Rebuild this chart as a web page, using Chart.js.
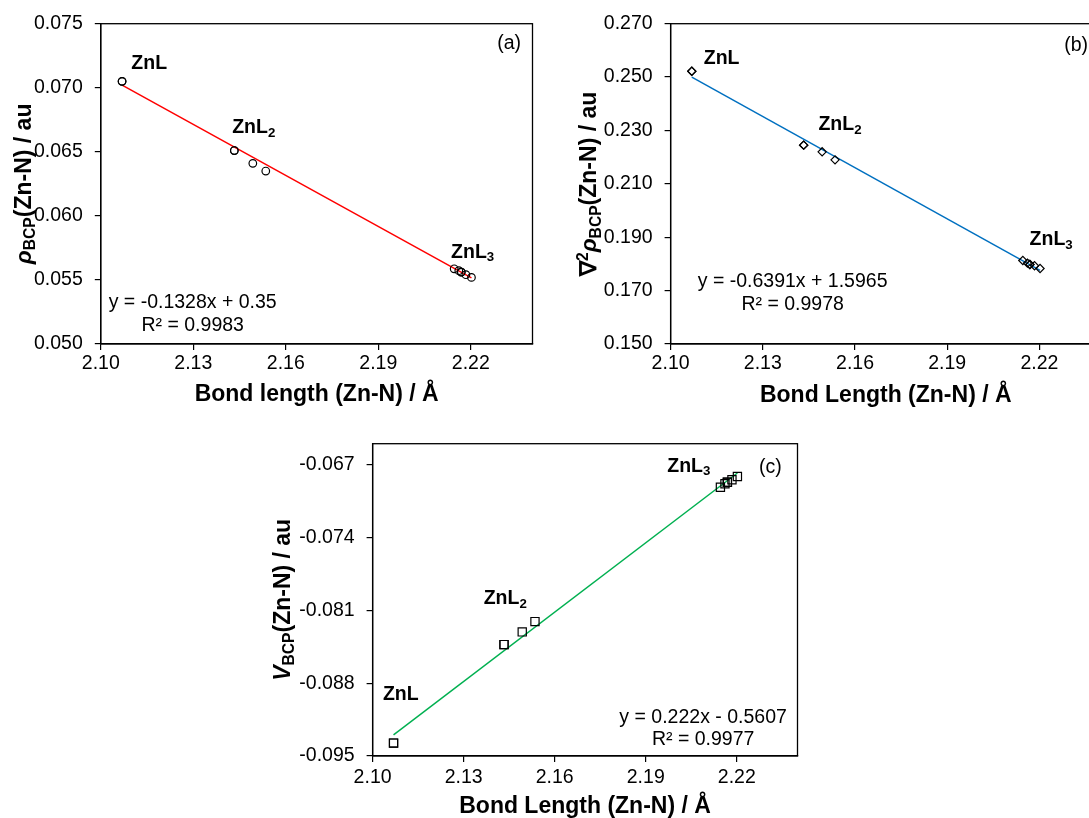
<!DOCTYPE html>
<html>
<head>
<meta charset="utf-8">
<script src="https://cdn.jsdelivr.net/npm/chart.js@4.4.0/dist/chart.umd.min.js"></script>
<style>
  html, body { margin: 0; padding: 0; background: #fff; overflow: hidden; width: 1089px; height: 818px; }
  .panel { position: absolute; }
</style>
</head>
<body>
<div class="panel" style="left:0;top:0"><canvas id="chartA" width="560" height="410"></canvas></div>
<div class="panel" style="left:545px;top:0"><canvas id="chartB" width="570" height="410"></canvas></div>
<div class="panel" style="left:270px;top:420px"><canvas id="chartC" width="545" height="398"></canvas></div>
<script>
const FONT = "'Liberation Sans', Arial, sans-serif"

//Datos
const bondLength = [2.1069, 2.1069, 2.1433, 2.1433, 2.1493, 2.1535, 2.2146, 2.2161, 2.2169, 2.2169, 2.2184, 2.2202]
const rhoBCP = [0.0705, 0.0705, 0.0651, 0.0651, 0.0641, 0.0635, 0.05587, 0.05572, 0.05561, 0.05561, 0.05541, 0.0552]
const lapRhoBCP = [0.2522, 0.2522, 0.2245, 0.2245, 0.2220, 0.2190, 0.1813, 0.1803, 0.1798, 0.1798, 0.1793, 0.1783]
const vBCP = [-0.09376, -0.09376, -0.0843, -0.0843, -0.08308, -0.08209, -0.06918, -0.06884, -0.0687, -0.0687, -0.06846, -0.06815]

//Líneas de tendencia (a), (b), (c)
const fitSlope = [-0.1328, -0.6391, 0.222]
const fitIntercept = [0.35, 1.5965, -0.5607]
const fitR2 = [0.9983, 0.9978, 0.9977]

//Ticks
const xTicks = [2.10, 2.13, 2.16, 2.19, 2.22]
const yTicksA = [0.050, 0.055, 0.060, 0.065, 0.070, 0.075]
const yTicksB = [0.150, 0.170, 0.190, 0.210, 0.230, 0.250, 0.270]
const yTicksC = [-0.095, -0.088, -0.081, -0.074, -0.067]

//Texto con subíndices / superíndices
const drawRich = (ctx, segs, x, y, size, weight, align) => {
  const parts = segs.map(s => {
    const small = s.sub || s.sup
    const fs = small ? size * 0.68 : size
    const font = `${s.style || 'normal'} ${weight} ${fs}px ${FONT}`
    ctx.font = font
    return { t: s.t, font, w: ctx.measureText(s.t).width, dy: s.sub ? size * 0.2 : s.sup ? -size * 0.36 : 0 }
  })
  const total = parts.reduce((acc, p) => acc + p.w, 0)
  let cx = align === 'center' ? x - total / 2 : align === 'right' ? x - total : x
  ctx.textAlign = 'left'
  ctx.textBaseline = 'alphabetic'
  parts.forEach(p => {
    ctx.font = p.font
    ctx.fillText(p.t, cx, y + p.dy)
    cx += p.w
  })
}

const decorPlugin = {
  id: 'panelDecor',
  afterDraw(chart, args, o) {
    const { ctx, chartArea: a, scales: { x, y } } = chart
    ctx.save()
    ctx.fillStyle = '#000'
    ctx.strokeStyle = '#000'
    ctx.lineWidth = 1.3
    ctx.strokeRect(a.left, a.top, a.right - a.left, a.bottom - a.top)

    //Título eje Y
    ctx.save()
    ctx.translate(o.yTitleX, (a.top + a.bottom) / 2)
    ctx.rotate(-Math.PI / 2)
    drawRich(ctx, o.yTitle, 0, 0, 23, 'bold', 'center')
    ctx.restore()

    //Etiquetas ZnL
    o.labels.forEach(l => {
      drawRich(ctx, l.segs, x.getPixelForValue(l.x), y.getPixelForValue(l.y), 19.5, 'bold', 'left')
    })

    //(a) (b) (c)
    drawRich(ctx, [{ t: o.letter.text }], x.getPixelForValue(o.letter.x), y.getPixelForValue(o.letter.y), 19.5, 'normal', 'right')

    //Ecuación
    const ex = x.getPixelForValue(o.eq.x)
    const ey = y.getPixelForValue(o.eq.y)
    o.eq.lines.forEach((line, i) => {
      drawRich(ctx, [{ t: line }], ex, ey + i * 22.7, 19.5, 'normal', 'center')
    })
    ctx.restore()
  }
}

const eqText = i => {
  const b = fitIntercept[i]
  return [`y = ${fitSlope[i]}x ${b < 0 ? '-' : '+'} ${Math.abs(b)}`, `R² = ${fitR2[i]}`]
}

const generatePanel = (id, p) => {
  const points = bondLength.map((v, i) => ({ x: v, y: p.values[i] }))
  const x0 = Math.min(...bondLength)
  const x1 = Math.max(...bondLength)
  const fit = [x0, x1].map(v => ({ x: v, y: fitSlope[p.idx] * v + fitIntercept[p.idx] }))

  return new Chart(document.getElementById(id), {
    type: 'scatter',
    data: {
      datasets: [
        {
          data: points,
          pointStyle: p.marker,
          pointRadius: p.radius,
          borderColor: '#000',
          backgroundColor: 'rgba(0,0,0,0)',
          borderWidth: 1.2,
          order: 1
        },
        {
          type: 'line',
          data: fit,
          borderColor: p.lineColor,
          borderWidth: 1.5,
          pointRadius: 0,
          fill: false,
          order: 2
        }
      ]
    },
    options: {
      responsive: false,
      animation: false,
      events: [],
      layout: { padding: p.padding },
      plugins: {
        legend: { display: false },
        tooltip: { enabled: false },
        panelDecor: p.decor
      },
      scales: {
        x: {
          type: 'linear',
          min: 2.10,
          max: 2.24,
          afterFit: s => { s.height = p.xHeight },
          afterBuildTicks: s => { s.ticks = xTicks.map(v => ({ value: v })) },
          ticks: {
            font: { family: FONT, size: 19.5 },
            color: '#000',
            padding: p.xTickPad,
            maxRotation: 0,
            autoSkip: false,
            callback: v => v.toFixed(2)
          },
          grid: { drawOnChartArea: false, drawTicks: true, tickLength: 6, color: '#000', lineWidth: 1.2 },
          border: { display: true, color: '#000', width: 1.3 },
          title: {
            display: true,
            text: p.xTitle,
            color: '#000',
            font: { family: FONT, size: 23, weight: 'bold', lineHeight: 1 },
            padding: { top: 0, bottom: p.xTitlePad }
          }
        },
        y: {
          type: 'linear',
          min: p.yMin,
          max: p.yMax,
          afterFit: s => { s.width = p.yWidth },
          afterBuildTicks: s => { s.ticks = p.yTicks.map(v => ({ value: v })) },
          ticks: {
            font: { family: FONT, size: 19.5 },
            color: '#000',
            padding: 12,
            autoSkip: false,
            callback: v => v.toFixed(3)
          },
          grid: { drawOnChartArea: false, drawTicks: true, tickLength: 6, color: '#000', lineWidth: 1.2 },
          border: { display: true, color: '#000', width: 1.3 }
        }
      }
    },
    plugins: [decorPlugin]
  })
}

generatePanel('chartA', {
  idx: 0,
  values: rhoBCP,
  marker: 'circle',
  radius: 3.8,
  lineColor: '#FF0000',
  padding: { top: 23, right: 27.5, left: 0, bottom: 0 },
  xHeight: 66,
  yWidth: 100.8,
  xTitle: 'Bond length (Zn-N) / Å',
  xTitlePad: 3.5,
  xTickPad: 1.5,
  yMin: 0.050,
  yMax: 0.075,
  yTicks: yTicksA,
  decor: {
    yTitleX: 30.5,
    yTitle: [{ t: 'ρ', style: 'italic' }, { t: 'BCP', sub: true }, { t: '(Zn-N) / au' }],
    labels: [
      { x: 2.1099, y: 0.07150, segs: [{ t: 'ZnL' }] },
      { x: 2.1426, y: 0.06646, segs: [{ t: 'ZnL' }, { t: '2', sub: true }] },
      { x: 2.2136, y: 0.05675, segs: [{ t: 'ZnL' }, { t: '3', sub: true }] }
    ],
    letter: { x: 2.2363, y: 0.07306, text: '(a)' },
    eq: { x: 2.1298, y: 0.05278, lines: eqText(0) }
  }
})

generatePanel('chartB', {
  idx: 1,
  values: lapRhoBCP,
  marker: 'rectRot',
  radius: 4.1,
  lineColor: '#0070C0',
  padding: { top: 23, right: 14.1, left: 0, bottom: 0 },
  xHeight: 66,
  yWidth: 125.6,
  xTitle: 'Bond Length (Zn-N) / Å',
  xTitlePad: 3,
  xTickPad: 1.5,
  yMin: 0.150,
  yMax: 0.270,
  yTicks: yTicksB,
  decor: {
    yTitleX: 51,
    yTitle: [{ t: '∇' }, { t: '2', sup: true }, { t: 'ρ', style: 'italic' }, { t: 'BCP', sub: true }, { t: '(Zn-N) / au' }],
    labels: [
      { x: 2.1108, y: 0.2549, segs: [{ t: 'ZnL' }] },
      { x: 2.1481, y: 0.2300, segs: [{ t: 'ZnL' }, { t: '2', sub: true }] },
      { x: 2.2168, y: 0.1870, segs: [{ t: 'ZnL' }, { t: '3', sub: true }] }
    ],
    letter: { x: 2.2358, y: 0.2599, text: '(b)' },
    eq: { x: 2.1397, y: 0.1712, lines: eqText(1) }
  }
})

generatePanel('chartC', {
  idx: 2,
  values: vBCP,
  marker: 'rect',
  radius: 5.8,
  lineColor: '#00B050',
  padding: { top: 15, right: 17.5, left: 0, bottom: 0 },
  xHeight: 62,
  yWidth: 102.6,
  xTitle: 'Bond Length (Zn-N) / Å',
  xTitlePad: 0,
  xTickPad: 4,
  yMin: -0.095,
  yMax: -0.065,
  yTicks: yTicksC,
  decor: {
    yTitleX: 19.5,
    yTitle: [{ t: 'V', style: 'italic' }, { t: 'BCP', sub: true }, { t: '(Zn-N) / au' }],
    labels: [
      { x: 2.1034, y: -0.08962, segs: [{ t: 'ZnL' }] },
      { x: 2.1366, y: -0.08044, segs: [{ t: 'ZnL' }, { t: '2', sub: true }] },
      { x: 2.1971, y: -0.06768, segs: [{ t: 'ZnL' }, { t: '3', sub: true }] }
    ],
    letter: { x: 2.2348, y: -0.06784, text: '(c)' },
    eq: { x: 2.2089, y: -0.0918, lines: eqText(2) }
  }
})
</script>
</body>
</html>
